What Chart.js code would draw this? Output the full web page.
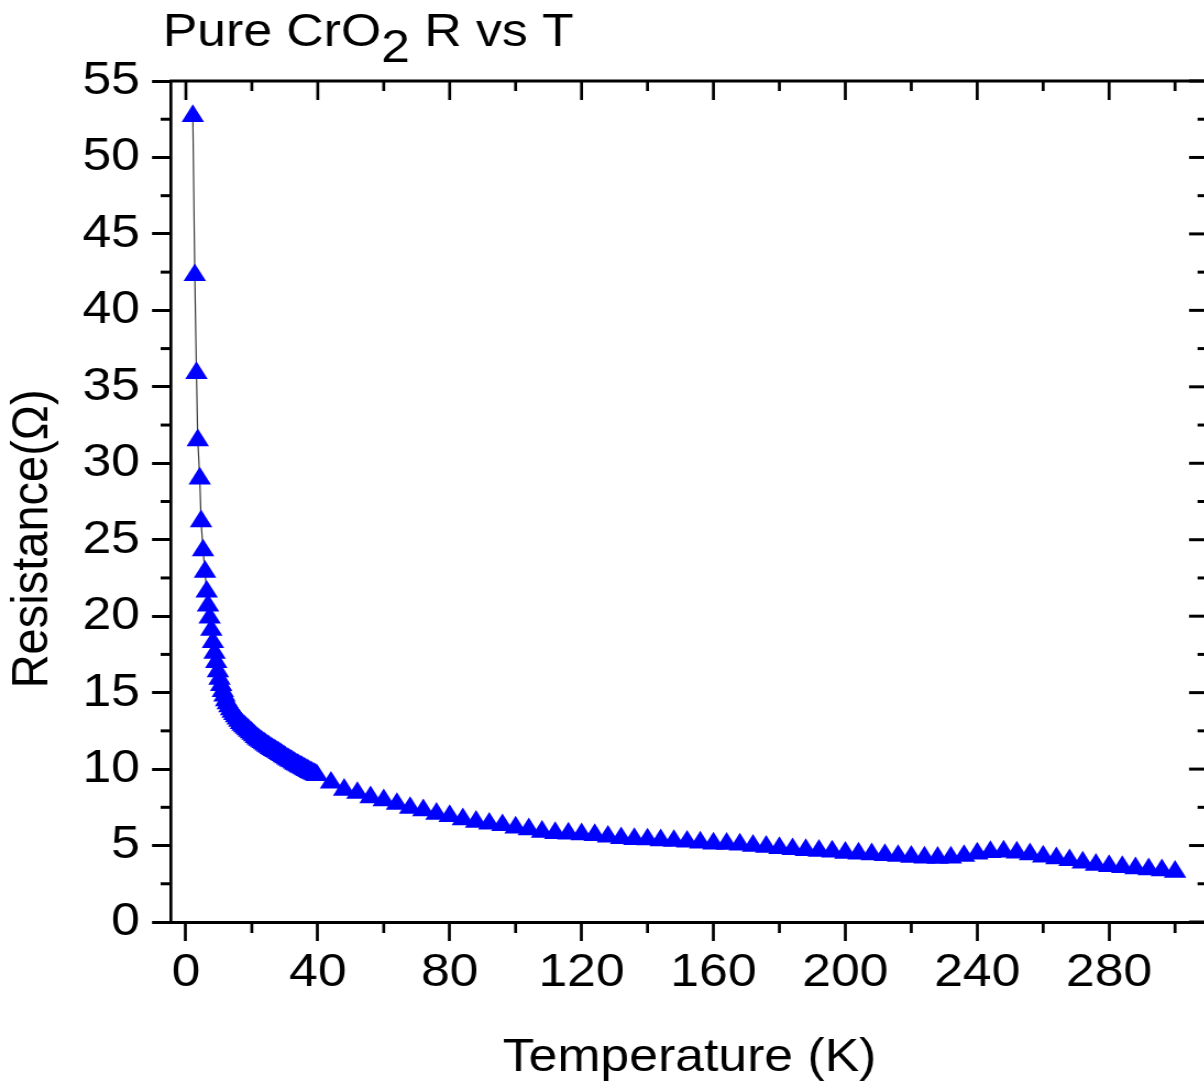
<!DOCTYPE html>
<html>
<head>
<meta charset="utf-8">
<title>Pure CrO2 R vs T</title>
<script src="https://cdn.jsdelivr.net/npm/chart.js@4.4.1/dist/chart.umd.min.js"></script>
<style>
  html, body { margin: 0; padding: 0; background: #fff; overflow: hidden; }
  /* the original figure is a bit wider than tall in its glyphs, so stretch horizontally */
  #wrap { width: 1110px; height: 1090px; transform: scaleX(1.1); transform-origin: 0 0; }
</style>
</head>
<body>
<div id="wrap"><canvas id="rvtChart" width="1110" height="1090"></canvas></div>
<script>
// Temperature (K) of each measured point
var temperature = [
  2.1, 2.7, 3.2, 3.6, 4.2, 4.6, 5.2, 5.8, 6.3, 6.7, 7.2,
  7.7, 8.2, 8.7, 9.2, 9.7, 10.2, 10.7, 11.2, 11.7, 12.2,
  12.7, 13.2, 13.7, 14.2, 14.7, 15.2, 15.7, 16.2, 16.7, 17.2,
  17.7, 18.2, 18.7, 19.2, 19.7, 20.2, 20.7, 21.2, 21.7, 22.2,
  22.7, 23.2, 23.7, 24.2, 24.7, 25.2, 25.7, 26.2, 26.7, 27.2,
  27.7, 28.2, 28.7, 29.2, 29.7, 30.2, 30.7, 31.2, 31.7, 32.2,
  32.7, 33.2, 33.7, 34.2, 34.7, 35.2, 35.7, 36.2, 36.7, 37.2,
  37.7, 38.2, 38.7, 39.2, 39.7,
  44, 48, 52, 56, 60, 64, 68, 72, 76, 80,
  84, 88, 92, 96, 100, 104, 108, 112, 116, 120,
  124, 128, 132, 136, 140, 144, 148, 152, 156, 160,
  164, 168, 172, 176, 180, 184, 188, 192, 196, 200,
  204, 208, 212, 216, 220, 224, 228, 232, 236, 240,
  244, 248, 252, 256, 260, 264, 268, 272, 276, 280,
  284, 288, 292, 296, 300
];

// Resistance (Ohm)
var resistance = [
  52.7, 42.3, 35.9, 31.5, 29.0, 26.2, 24.3, 22.9, 21.6, 20.7, 19.9,
  19.1, 18.3, 17.6, 17.0, 16.4, 15.9, 15.5, 15.1, 14.8, 14.5,
  14.3, 14.1, 13.9, 13.75, 13.6, 13.45, 13.3, 13.15, 13.0, 12.9,
  12.8, 12.7, 12.6, 12.5, 12.4, 12.3, 12.2, 12.1, 12.0, 11.92,
  11.84, 11.76, 11.68, 11.6, 11.52, 11.45, 11.38, 11.31, 11.24, 11.18,
  11.12, 11.05, 10.98, 10.91, 10.84, 10.76, 10.68, 10.62, 10.56, 10.5,
  10.42, 10.35, 10.29, 10.23, 10.17, 10.11, 10.05, 9.99, 9.93, 9.87,
  9.81, 9.75, 9.7, 9.65, 9.6,
  9.11, 8.65, 8.44, 8.15, 7.96, 7.72, 7.46, 7.30, 7.08, 6.93,
  6.72, 6.55, 6.43, 6.33, 6.17, 6.06, 5.90, 5.81, 5.78, 5.73,
  5.68, 5.58, 5.48, 5.42, 5.40, 5.34, 5.30, 5.25, 5.19, 5.13,
  5.11, 5.07, 4.98, 4.91, 4.83, 4.76, 4.71, 4.65, 4.60, 4.53,
  4.47, 4.43, 4.38, 4.32, 4.26, 4.21, 4.20, 4.21, 4.32, 4.47,
  4.57, 4.60, 4.54, 4.43, 4.28, 4.17, 4.04, 3.88, 3.74, 3.66,
  3.59, 3.51, 3.45, 3.38, 3.28
];

// axis ticks
var xTicks = [0, 40, 80, 120, 160, 200, 240, 280];
var xMinorTicks = [20, 60, 100, 140, 180, 220, 260, 300];
var yTicks = [0, 5, 10, 15, 20, 25, 30, 35, 40, 45, 50, 55];
var yMinorTicks = [2.5, 7.5, 12.5, 17.5, 22.5, 27.5, 32.5, 37.5, 42.5, 47.5, 52.5];

var FONT = "'Liberation Sans', Arial, sans-serif";
var FSIZE = 47;

// Origin-style frame: top/right axes with inward ticks, minor ticks, and the title
var framePlugin = {
  id: 'frame',
  afterDraw: function (chart) {
    var c = chart.ctx, a = chart.chartArea;
    var sx = chart.scales.x, sy = chart.scales.y;
    function seg(x1, y1, x2, y2) {
      c.beginPath(); c.moveTo(x1, y1); c.lineTo(x2, y2); c.stroke();
    }
    c.save();
    c.strokeStyle = '#000';
    c.lineWidth = 3;
    seg(a.left - 1.35, a.top, a.right + 1.35, a.top);
    c.lineWidth = 2.7;
    seg(a.right, a.top, a.right, a.bottom + 1.5);

    // x: top inward, bottom outward minor
    c.lineWidth = 2.7;
    xTicks.forEach(function (v) {
      var px = sx.getPixelForValue(v);
      seg(px, a.top, px, a.top + 19);
    });
    xMinorTicks.forEach(function (v) {
      var px = sx.getPixelForValue(v);
      seg(px, a.top, px, a.top + 10);
      seg(px, a.bottom, px, a.bottom + 11);
    });

    // y: right inward, left outward minor
    c.lineWidth = 3;
    yTicks.forEach(function (v) {
      var py = sy.getPixelForValue(v);
      seg(a.right, py, a.right - 17.3, py);
    });
    yMinorTicks.forEach(function (v) {
      var py = sy.getPixelForValue(v);
      seg(a.right, py, a.right - 9.5, py);
      seg(a.left, py, a.left - 9.5, py);
    });

    // title with subscript
    c.fillStyle = '#000';
    c.textBaseline = 'alphabetic';
    c.textAlign = 'left';
    c.font = FSIZE + 'px ' + FONT;
    var x = 148;
    c.fillText('Pure CrO', x, 46);
    x += c.measureText('Pure CrO').width;
    c.fillText('2', x, 62);
    x += c.measureText('2').width;
    c.fillText(' R vs T', x, 46);
    c.restore();
  }
};

var points = temperature.map(function (t, i) {
  return { x: t, y: resistance[i] };
});

var ctx = document.getElementById('rvtChart').getContext('2d');
var rvtChart = new Chart(ctx, {
  type: 'line',
  data: {
    datasets: [{
      data: points,
      borderColor: '#3a3a3a',
      borderWidth: 1.2,
      fill: false,
      tension: 0,
      pointStyle: 'triangle',
      pointRadius: 11.8,
      pointHoverRadius: 11.8,
      pointBackgroundColor: '#0000ff',
      pointBorderColor: '#0000ff',
      pointBorderWidth: 0
    }]
  },
  options: {
    responsive: false,
    animation: false,
    devicePixelRatio: 1,
    layout: { padding: { top: 81, right: 10.9, bottom: 0, left: 0 } },
    plugins: {
      legend: { display: false },
      tooltip: { enabled: false },
      title: { display: false }
    },
    scales: {
      x: {
        type: 'linear',
        position: 'bottom',
        min: -4.5,
        max: 310,
        afterBuildTicks: function (s) {
          s.ticks = xTicks.map(function (v) { return { value: v }; });
        },
        afterFit: function (s) { s.height = 168; },
        border: { display: true, color: '#000', width: 3 },
        grid: {
          drawOnChartArea: false, drawTicks: true,
          tickLength: 19, tickWidth: 2.7, tickColor: '#000', color: '#000'
        },
        ticks: {
          color: '#000', font: { family: FONT, size: FSIZE },
          padding: 4, maxRotation: 0, autoSkip: false
        },
        title: {
          display: true, text: 'Temperature (K)', color: '#000',
          font: { family: FONT, size: FSIZE }, padding: { top: 0, bottom: 4 }
        }
      },
      y: {
        type: 'linear',
        position: 'left',
        min: 0,
        max: 55,
        afterBuildTicks: function (s) {
          s.ticks = yTicks.map(function (v) { return { value: v }; });
        },
        afterFit: function (s) { s.width = 155.5; },
        border: { display: true, color: '#000', width: 2.7 },
        grid: {
          drawOnChartArea: false, drawTicks: true,
          tickLength: 17.3, tickWidth: 3, tickColor: '#000', color: '#000'
        },
        ticks: {
          color: '#000', font: { family: FONT, size: FSIZE },
          padding: 11, autoSkip: false
        },
        title: {
          display: true, text: 'Resistance(\u03A9)     \u2009', color: '#000',
          font: { family: FONT, size: FSIZE }, padding: { top: 2, bottom: 0 }
        }
      }
    }
  },
  plugins: [framePlugin]
});
</script>
</body>
</html>
